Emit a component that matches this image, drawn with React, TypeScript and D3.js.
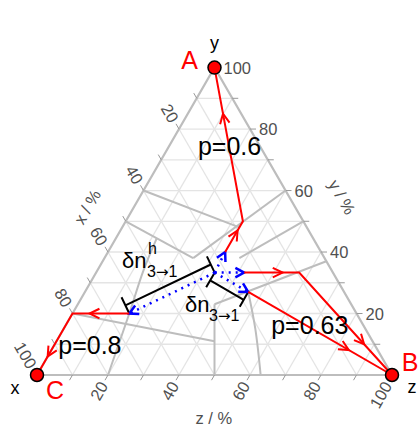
import * as d3 from "d3";

// ternary points are [x, y, z] in %
type T = [number, number, number];

const W = 419;
const H = 429;
const LEFT = 37;
const RIGHT = 392;
const BASE = 375;
const TOP = BASE - ((RIGHT - LEFT) * Math.sqrt(3)) / 2;

const gridValues = d3.range(10, 100, 10);
const tickValues = d3.range(10, 101, 10);
const labelValues = [20, 40, 60, 80, 100];

const vertexX: T = [100, 0, 0];
const vertexY: T = [0, 100, 0];
const vertexZ: T = [0, 0, 100];
const centre: T = [33.3, 33.3, 33.4];

// straight phase boundaries
const boundaries: T[][] = [
  [[40, 60, 0], [19, 48, 33]],
  [[50, 50, 0], [37, 38, 25]],
  [[37, 38, 25], [0, 60, 40]],
  [[0, 50, 50], [24, 38, 38]],
  [[38.5, 23, 38.5], [0, 37, 63]],
  [[38.5, 23, 38.5], [50, 0, 50]],
  [[80, 20, 0], [44.5, 11, 44.5]],
];
// curved boundaries
const curves: T[][] = [
  [[44, 44.5, 11.5], [53, 34, 13], [64, 20, 16], [72, 10, 18], [80, 0, 20]],
  [[27, 27, 46], [31, 15, 54], [37, 0, 63]],
];

// first steps (blue) and the routes that follow (red)
const stepEnds: T[] = [
  [27, 40, 33],
  [25, 33.3, 41.7],
  [27, 27, 46],
  [64, 20, 16],
];
const routes: T[][] = [
  [[27, 40, 33], [17, 50, 33], vertexY],
  [[25, 33.3, 41.7], [9.5, 33.3, 57.2], vertexZ],
  [[27, 27, 46], vertexZ],
  [[64, 20, 16], [80, 20, 0], vertexX],
];

const pLabels = ["p=0.6", "p=0.63", "p=0.8"];
const pLabelAt: T[] = [[10, 71.5, 18.5], [16.5, 13.3, 70.2], [81.7, 6.8, 11.5]];

const sx = d3.scaleLinear().domain([0, 100]).range([LEFT, RIGHT]);
const sy = d3.scaleLinear().domain([0, 100]).range([BASE, TOP]);

const proj = ([x, y, z]: T): [number, number] => {
  const s = x + y + z;
  const yy = (y / s) * 100;
  const zz = (z / s) * 100;
  return [sx(zz + yy / 2), sy(yy)];
};

const GRID = "#e4e4e4";
const AXIS = "#bdbdbd";
const TXT = "#505050";
const RED = "#ff0000";
const BLUE = "#0000ff";

const lineGen = d3.line<T>().x((d) => proj(d)[0]).y((d) => proj(d)[1]);
const curveGen = d3
  .line<T>()
  .x((d) => proj(d)[0])
  .y((d) => proj(d)[1])
  .curve(d3.curveCatmullRom.alpha(0.5));

const chevron = (tip: [number, number], dir: [number, number], len = 10, ang = 0.5) => {
  const a = Math.atan2(dir[1], dir[0]);
  const p1 = [tip[0] - len * Math.cos(a - ang), tip[1] - len * Math.sin(a - ang)];
  const p2 = [tip[0] - len * Math.cos(a + ang), tip[1] - len * Math.sin(a + ang)];
  return `M${p1[0]},${p1[1]}L${tip[0]},${tip[1]}L${p2[0]},${p2[1]}`;
};

const bracket = (a: T, b: T, off: number, cap: number) => {
  const p0 = proj(a);
  const p1 = proj(b);
  const dx = p1[0] - p0[0];
  const dy = p1[1] - p0[1];
  const l = Math.hypot(dx, dy);
  const n = [-dy / l, dx / l];
  const s = [p0[0] + n[0] * off, p0[1] + n[1] * off];
  const e = [p1[0] + n[0] * off, p1[1] + n[1] * off];
  return (
    `M${s[0]},${s[1]}L${e[0]},${e[1]}` +
    `M${s[0] - n[0] * cap},${s[1] - n[1] * cap}L${s[0] + n[0] * cap},${s[1] + n[1] * cap}` +
    `M${e[0] - n[0] * cap},${e[1] - n[1] * cap}L${e[0] + n[0] * cap},${e[1] + n[1] * cap}`
  );
};

const axes = [
  { at: (v: number): T => [v, 100 - v, 0], dir: [-0.5, -0.866], rot: 60, anchor: "end" },
  { at: (v: number): T => [0, v, 100 - v], dir: [1, 0], rot: 0, anchor: "start" },
  { at: (v: number): T => [100 - v, 0, v], dir: [-0.5, 0.866], rot: -60, anchor: "end" },
];

const Sub = ({ x, y }: { x: number; y: number }) => (
  <text x={x} y={y} fontSize={16} fill="black">
    3<tspan fontFamily="'DejaVu Sans'" fontSize={15}>→</tspan>1
  </text>
);

export default function App() {
  const P = proj(centre);
  const A = proj(vertexY);
  const B = proj(vertexZ);
  const C = proj(vertexX);

  return (
    <svg
      width={W}
      height={H}
      style={{ position: "absolute", left: 0, top: 0, background: "white" }}
      fontFamily="'Liberation Sans', Arial, sans-serif"
    >
      {/* grid */}
      <g stroke={GRID} strokeWidth={1.3} fill="none">
        {gridValues.map((v) => (
          <g key={v}>
            <path d={lineGen([[v, 100 - v, 0], [v, 0, 100 - v]])!} />
            <path d={lineGen([[100 - v, v, 0], [0, v, 100 - v]])!} />
            <path d={lineGen([[100 - v, 0, v], [0, 100 - v, v]])!} />
          </g>
        ))}
      </g>

      {/* border */}
      <path d={lineGen([vertexX, vertexY, vertexZ, vertexX])!} stroke={AXIS} strokeWidth={2.2} fill="none" />

      {/* ticks and labels */}
      {axes.map((ax, i) => (
        <g key={i}>
          {tickValues.map((v) => {
            const [x0, y0] = proj(ax.at(v));
            const x1 = x0 + ax.dir[0] * 6;
            const y1 = y0 + ax.dir[1] * 6;
            const lx = x0 + ax.dir[0] * 9;
            const ly = y0 + ax.dir[1] * 9;
            return (
              <g key={v}>
                <line x1={x0} y1={y0} x2={x1} y2={y1} stroke="#999" strokeWidth={1} />
                {labelValues.includes(v) && (
                  <text
                    x={lx}
                    y={ly}
                    transform={`rotate(${ax.rot},${lx},${ly})`}
                    textAnchor={ax.anchor}
                    dominantBaseline="central"
                    fontSize={16.5}
                    fill={TXT}
                  >
                    {v}
                  </text>
                )}
              </g>
            );
          })}
        </g>
      ))}

      {/* axis titles */}
      {[
        { t: "x / %", at: [58.5, 54.7, -13.2] as T, rot: -60 },
        { t: "y / %", at: [-14.9, 57.9, 57] as T, rot: 60 },
        { t: "z / %", at: [57.2, -14, 56.8] as T, rot: 0 },
      ].map((d) => {
        const [x, y] = proj(d.at);
        return (
          <text
            key={d.t}
            x={x}
            y={y}
            transform={`rotate(${d.rot},${x},${y})`}
            textAnchor="middle"
            dominantBaseline="central"
            fontSize={16.5}
            fill={TXT}
          >
            {d.t}
          </text>
        );
      })}

      {/* boundaries */}
      <g stroke={AXIS} strokeWidth={2} fill="none">
        {boundaries.map((b, i) => (
          <path key={i} d={lineGen(b)!} />
        ))}
        {curves.map((c, i) => (
          <path key={"c" + i} d={curveGen(c)!} />
        ))}
      </g>

      {/* brackets */}
      <path d={bracket(centre, stepEnds[3], 9, 9)} stroke="black" strokeWidth={2} fill="none" />
      <path d={bracket(centre, stepEnds[2], 9, 8)} stroke="black" strokeWidth={2} fill="none" />

      {/* blue first steps */}
      {stepEnds.map((e, i) => {
        const q = proj(e);
        return (
          <g key={i} stroke={BLUE} strokeWidth={2.5} fill="none">
            <line x1={P[0]} y1={P[1]} x2={q[0]} y2={q[1]} strokeDasharray="2,5" />
            <path d={chevron(q, [q[0] - P[0], q[1] - P[1]])} />
          </g>
        );
      })}

      {/* red routes */}
      {routes.map((r, i) => (
        <g key={i} stroke={RED} strokeWidth={2} fill="none">
          <path d={lineGen(r)!} />
          {r.slice(1).map((pt, j) => {
            const a = proj(r[j]);
            const b = proj(pt);
            const tip: [number, number] = [a[0] + (b[0] - a[0]) * 0.7, a[1] + (b[1] - a[1]) * 0.7];
            return <path key={j} d={chevron(tip, [b[0] - a[0], b[1] - a[1]], 11, 0.45)} />;
          })}
        </g>
      ))}

      {/* p labels */}
      {pLabels.map((t, i) => {
        const [x, y] = proj(pLabelAt[i]);
        return (
          <text key={t} x={x} y={y} textAnchor="middle" fontSize={25} fill="black">
            {t}
          </text>
        );
      })}

      {/* delta labels */}
      <text x={122} y={268} fontSize={22} fill="black">
        δn
      </text>
      <text x={148} y={254} fontSize={16} fill="black">
        h
      </text>
      <Sub x={147} y={277} />
      <text x={185} y={312} fontSize={22} fill="black">
        δn
      </text>
      <Sub x={209} y={321} />

      {/* vertices */}
      {[A, B, C].map((p, i) => (
        <circle key={i} cx={p[0]} cy={p[1]} r={6.5} fill={RED} stroke="black" strokeWidth={1.5} />
      ))}
      <text x={A[0]} y={A[1] - 19} textAnchor="middle" fontSize={18}>y</text>
      <text x={C[0] - 22} y={C[1] + 19} textAnchor="middle" fontSize={18}>x</text>
      <text x={B[0] + 20} y={B[1] + 18} textAnchor="middle" fontSize={18}>z</text>
      <text x={A[0] - 25} y={A[1] - 8} textAnchor="middle" dominantBaseline="central" fontSize={25} fill={RED}>A</text>
      <text x={B[0] + 18} y={B[1] - 13} textAnchor="middle" dominantBaseline="central" fontSize={25} fill={RED}>B</text>
      <text x={C[0] + 18} y={C[1] + 15} textAnchor="middle" dominantBaseline="central" fontSize={25} fill={RED}>C</text>
    </svg>
  );
}
